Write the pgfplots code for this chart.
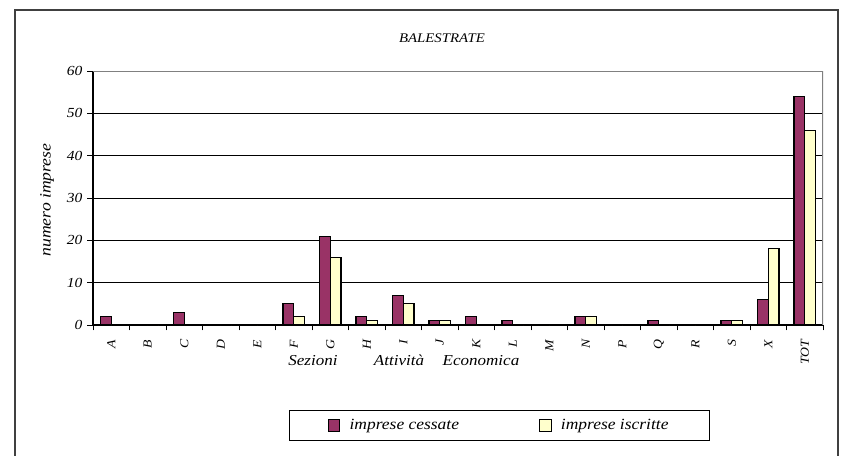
\documentclass[border=0pt]{standalone}
\usepackage{fontspec}
\setmainfont{Liberation Serif}[FakeStretch=1.12]
\usepackage{pgfplots}
\pgfplotsset{compat=1.18}
\definecolor{cessate}{HTML}{993366}
\definecolor{iscritte}{HTML}{FFFFCC}
\definecolor{framegray}{HTML}{404040}

\begin{document}
\begin{tikzpicture}
% page frame, in reference pixels (1px = 0.75pt), y downwards
\begin{scope}[x=0.75pt,y=-0.75pt]
  \useasboundingbox (0,0) rectangle (843,455);
  \draw[framegray,line width=1.6pt] (15,456) -- (15,10) -- (838,10) -- (838,456);
  \node[font=\fontsize{9.9}{11}\selectfont\itshape] at (442,38) {BALESTRATE};
  \node[font=\fontsize{11.8}{13}\selectfont\itshape,rotate=90] at (47,200) {numero imprese};
  \begin{scope}[every node/.style={font=\fontsize{11.4}{13}\selectfont\itshape,anchor=base}]
    \node at (313,365) {Sezioni};
    \node at (399,365) {Attività};
    \node at (481,365) {Economica};
  \end{scope}
\end{scope}

\begin{axis}[
  at={(69.75pt,-243.75pt)}, anchor=south west,
  scale only axis, width=547.5pt, height=190.5pt,
  ybar=0pt, bar width=8pt,
  xmin=-0.5, xmax=19.5, ymin=0, ymax=60,
  axis x line*=bottom, axis y line*=left,
  axis line style={black,line width=0.9pt},
  xtick={0,...,19},
  xticklabels={A,B,C,D,E,F,G,H,I,J,K,L,M,N,P,Q,R,S,X,TOT},
  minor xtick={-0.5,0.5,...,19.5},
  ytick={0,10,...,60},
  tick align=outside,
  major x tick style={draw=none},
  minor x tick style={black,line width=0.7pt},
  minor tick length=4pt,
  major tick length=4.5pt,
  ytick style={black,line width=0.7pt},
  ymajorgrids,
  major grid style={black,line width=0.6pt},
  /pgf/number format/assume math mode=true,
  yticklabel style={font=\fontsize{10.4}{12}\selectfont\itshape},
  xticklabel style={font=\fontsize{9.2}{10}\selectfont\itshape,rotate=90,anchor=east},
  xticklabel shift=3pt,
  legend columns=2,
  legend style={at={(0.5568,-0.3957)},anchor=center,draw=black,line width=0.7pt,
    font=\fontsize{11.7}{13}\selectfont\itshape,inner xsep=29pt,inner ysep=4.5pt,
    /tikz/every even column/.append style={column sep=58pt}},
  legend image code/.code={\draw[#1,line width=0.9pt] (0pt,-4.3pt) rectangle (8.6pt,4.3pt);
    \path (13.5pt,0pt);},
]
\addplot[draw=black,line width=0.9pt,fill=cessate] coordinates {
 (0,2) (1,0) (2,3) (3,0) (4,0) (5,5) (6,21) (7,2) (8,7) (9,1)
 (10,2) (11,1) (12,0) (13,2) (14,0) (15,1) (16,0) (17,1) (18,6) (19,54)};
\addlegendentry{imprese cessate}
\addplot[draw=black,line width=0.9pt,fill=iscritte] coordinates {
 (0,0) (1,0) (2,0) (3,0) (4,0) (5,2) (6,16) (7,1) (8,5) (9,1)
 (10,0) (11,0) (12,0) (13,2) (14,0) (15,0) (16,0) (17,1) (18,18) (19,46)};
\addlegendentry{imprese iscritte}
\draw[gray,line width=0.9pt] (rel axis cs:0,1) -- (rel axis cs:1,1) -- (rel axis cs:1,0);
\end{axis}
\end{tikzpicture}
\end{document}
